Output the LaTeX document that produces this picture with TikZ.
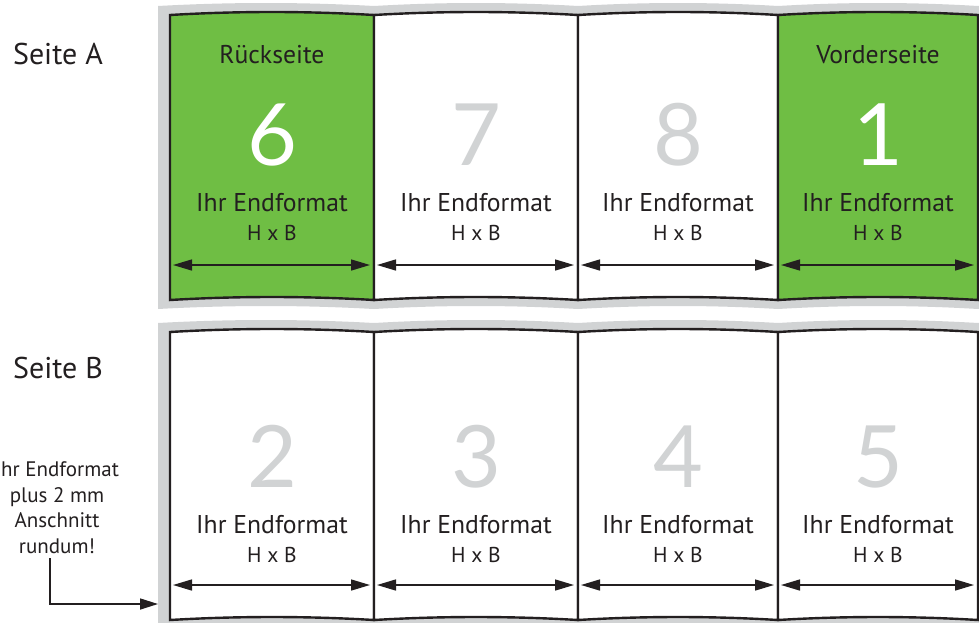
\documentclass[tikz,border=0pt]{standalone}
\usepackage{fontspec}
\setmainfont{PT Sans}
\newfontfamily\digitfont{Lato}
\usetikzlibrary{arrows.meta}
\definecolor{grn}{RGB}{111,190,68}
\definecolor{bleed}{RGB}{209,211,212}
\definecolor{ink}{RGB}{35,31,32}
\definecolor{numgray}{RGB}{209,211,212}
\tikzset{
  frame/.style={draw=ink, line width=2.4pt, line join=miter},
  dimarrow/.style={draw=ink, line width=1.4pt,
    {Triangle[length=19pt,width=11pt]}-{Triangle[length=19pt,width=11pt]}},
  notearrow/.style={draw=ink, line width=1.6pt, -{Triangle[length=18pt,width=11pt]}},
  bignum/.style={font=\digitfont\fontsize{86}{86}\selectfont, anchor=base, inner sep=0pt},
  title/.style={font=\fontsize{25.7}{25.7}\selectfont, text=ink, anchor=base, inner sep=0pt},
  hxb/.style={font=\fontsize{21.5}{21.5}\selectfont, text=ink, anchor=base, inner sep=0pt},
  sidelbl/.style={font=\fontsize{30}{30}\selectfont, text=ink, anchor=base, inner sep=0pt},
  notelbl/.style={font=\fontsize{21}{25.5}\selectfont, text=ink, align=center, inner sep=0pt},
}
\begin{document}
\begin{tikzpicture}[x=1pt,y=-1pt]
\useasboundingbox (0,0) rectangle (979,622);
\clip (0,0) rectangle (979,622);
% bleed areas
\fill[bleed] (158,6) \foreach \a/\b in {158/374,374/578,578/778,778/978,978/1180}{ .. controls ({\a+(\b-\a)/3},2) and ({\b-(\b-\a)/3},2) .. (\b,6)}
  -- (1180,309) \foreach \a/\b in {1180/978,978/778,778/578,578/374,374/158}{ .. controls ({\a+(\b-\a)/3},305) and ({\b-(\b-\a)/3},305) .. (\b,309)} -- cycle;
\fill[bleed] (158,323) \foreach \a/\b in {158/374,374/578,578/778,778/978,978/1180}{ .. controls ({\a+(\b-\a)/3},319) and ({\b-(\b-\a)/3},319) .. (\b,323)}
  -- (1180,640) -- (158,640) -- cycle;
% top row panels
\foreach \i/\xa/\xb/\n/\fc/\nc in {1/170/374/6/grn/white, 2/374/578/7/white/numgray, 3/578/778/8/white/numgray, 4/778/978/1/grn/white}{
  \path[frame, fill=\fc] (\xa,15) .. controls ({\xa+(\xb-\xa)/3},11) and ({\xb-(\xb-\xa)/3},11) .. (\xb,15)
     -- (\xb,300) .. controls ({\xb-(\xb-\xa)/3},296) and ({\xa+(\xb-\xa)/3},296) .. (\xa,300) -- cycle;
  \node[bignum, text=\nc] (a\i num) at ({(\xa+\xb)/2},165) {\n};
  \node[title] (a\i end) at ({(\xa+\xb)/2},211) {Ihr Endformat};
  \node[hxb] (a\i hxb) at ({(\xa+\xb)/2},240) {H x B};
  \coordinate (a\i l) at ({\xa+3},265);
  \coordinate (a\i r) at ({\xb-4},265);
  \draw[dimarrow] (a\i l) -- (a\i r);
}
\node[title] (rueck) at (272,63) {Rückseite};
\node[title] (vorder) at (878,63) {Vorderseite};
% bottom row panels
\foreach \i/\xa/\xb/\n in {1/170/374/2, 2/374/578/3, 3/578/778/4, 4/778/978/5}{
  \path[frame, fill=white] (\xa,332) .. controls ({\xa+(\xb-\xa)/3},328) and ({\xb-(\xb-\xa)/3},328) .. (\xb,332)
     -- (\xb,620) .. controls ({\xb-(\xb-\xa)/3},616) and ({\xa+(\xb-\xa)/3},616) .. (\xa,620) -- cycle;
  \node[bignum, text=numgray] (b\i num) at ({(\xa+\xb)/2},487) {\n};
  \node[title] (b\i end) at ({(\xa+\xb)/2},533) {Ihr Endformat};
  \node[hxb] (b\i hxb) at ({(\xa+\xb)/2},562) {H x B};
  \coordinate (b\i l) at ({\xa+3},585);
  \coordinate (b\i r) at ({\xb-4},585);
  \draw[dimarrow] (b\i l) -- (b\i r);
}
% side labels
\node[sidelbl] (seiteA) at (58,64) {Seite A};
\node[sidelbl] (seiteB) at (58,378) {Seite B};
\node[notelbl] (note) at (57,507.5) {Ihr Endformat\\plus 2 mm\\Anschnitt\\rundum!};
\coordinate (noteStart) at (50,558);
\coordinate (bleedHit) at (158,604);
\draw[notearrow] (noteStart) |- (bleedHit);
\end{tikzpicture}
\end{document}
